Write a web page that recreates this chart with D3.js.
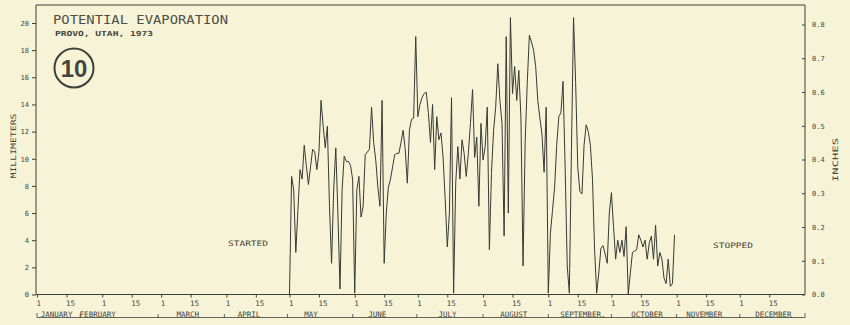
<!DOCTYPE html>
<html>
<head>
<meta charset="utf-8">
<script src="https://cdn.jsdelivr.net/npm/d3@7"></script>
<style>
  body { margin: 0; background: #f6f3d7; }
  svg { display: block; }
  text { font-family: "DejaVu Sans Mono", monospace; fill: #45443d; }
</style>
</head>
<body>
<div id="svg-container"></div>
<script>
// Daily potential evaporation, millimeters, Provo Utah 1973
const year = 1973;
const monthNames = ['JANUARY', 'FEBRUARY', 'MARCH', 'APRIL', 'MAY', 'JUNE',
  'JULY', 'AUGUST', 'SEPTEMBER,', 'OCTOBER', 'NOVEMBER', 'DECEMBER'];
const mayMm = [0, 8.7, 7.7, 3.1, 6.2, 9.2, 8.5, 11.0, 9.5, 8.1, 9.4, 10.7, 10.5, 9.2, 10.5, 14.3,
  12.4, 10.8, 12.4, 6.5, 2.3, 7.7, 10.8, 6.0, 0.4, 7.7, 10.2, 9.8, 9.8, 9.5, 8.5];
const juneMm = [0.1, 7.7, 8.7, 5.7, 6.5, 10.3, 10.5, 10.7, 13.8, 11.2, 9.9, 7.9, 6.5, 14.3, 2.3,
  6.0, 7.9, 8.5, 9.4, 10.3, 10.4, 10.4, 11.2, 12.1, 10.7, 8.2, 12.1, 12.9, 13.0, 19.0];
const julyMm = [13.1, 14.0, 14.5, 14.8, 14.9, 13.4, 11.2, 14.0, 9.2, 13.1, 11.4, 11.9, 10.1, 7.0, 3.5,
  6.0, 14.5, 0.1, 8.2, 10.9, 8.5, 11.4, 10.4, 8.7, 10.4, 12.6, 15.1, 10.1, 11.6, 6.5, 12.6];
const augustMm = [9.9, 10.9, 13.8, 3.3, 9.0, 12.1, 13.8, 17.0, 14.3, 12.6, 4.3, 19.0, 6.0, 20.4, 14.8,
  16.8, 14.3, 16.5, 13.0, 2.1, 11.2, 15.6, 19.1, 18.6, 18.0, 16.8, 14.3, 13.0, 11.8, 9.0, 13.8];
const septemberMm = [0.1, 4.5, 6.2, 7.9, 11.0, 13.1, 13.4, 15.7, 9.4, 2.1, 0.1, 10.7, 20.4, 15.6, 9.4,
  7.6, 7.4, 11.0, 12.5, 12.0, 11.0, 8.5, 3.3, 0.1, 1.6, 3.4, 3.6, 3.0, 2.3, 6.0];
const octoberMm = [7.5, 5.0, 2.6, 4.0, 3.1, 4.0, 2.8, 5.0, 0.0, 1.6, 3.1, 3.2, 3.3, 4.4, 4.0,
  3.5, 4.0, 2.6, 3.8, 4.3, 2.6, 5.1, 2.1, 3.1, 2.6, 1.2, 0.8, 2.6, 0.6, 0.8, 4.4];
const mmTicks = [0, 2, 4, 6, 8, 10, 12, 14, 16, 18, 20];
const inchTicks = [0, 0.1, 0.2, 0.3, 0.4, 0.5, 0.6, 0.7, 0.8];
const dayTicks = [1, 15];

// months that have data, month index -> values
let monthSeries = [[4, mayMm], [5, juneMm], [6, julyMm], [7, augustMm], [8, septemberMm], [9, octoberMm]];
let data = [];
monthSeries.forEach(([m, vals]) => {
  vals.forEach((v, i) => data.push({ date: new Date(year, m, i + 1), mm: v }));
});

let svgWidth = 850;
let svgHeight = 325;
let plotLeft = 36, plotRight = 805, plotTop = 5, plotBase = 294.5;

let svg = d3.select('#svg-container')
  .append('svg')
  .attr('width', svgWidth)
  .attr('height', svgHeight);

// scales
let x = d3.scaleTime()
  .domain([new Date(year, 0, 1), new Date(year + 1, 0, 1)])
  .range([37, plotRight]);
let y = d3.scaleLinear().domain([0, 20]).range([plotBase, 23]);
let yIn = d3.scaleLinear().domain([0, 0.8]).range([plotBase, 24.5]);

let ink = '#3f3e38';

// frame: top and right edges, left axis and baseline
svg.append('path')
  .attr('d', `M${plotLeft},${plotBase}V${plotTop}H${plotRight}V${plotBase}H${plotLeft}`)
  .attr('fill', 'none')
  .attr('stroke', ink)
  .attr('stroke-width', 1);

// left axis
let gl = svg.append('g')
  .attr('transform', `translate(${plotLeft},0)`)
  .call(d3.axisLeft(y).tickValues(mmTicks).tickSize(4).tickPadding(3).tickFormat(d3.format('d')));
gl.select('.domain').remove();
gl.selectAll('text').style('font-size', '7px');

// right axis
let gr = svg.append('g')
  .attr('transform', `translate(${plotRight},0)`)
  .call(d3.axisRight(yIn).tickValues(inchTicks).tickSize(-3).tickPadding(7).tickFormat(d3.format('.1f')));
gr.select('.domain').remove();
gr.selectAll('text').style('font-size', '7px');

// bottom axis: 1 and 15 of each month
let tickDates = [];
d3.range(12).forEach(m => dayTicks.forEach(d => tickDates.push(new Date(year, m, d))));
let gb = svg.append('g')
  .attr('transform', `translate(0,${plotBase})`)
  .call(d3.axisBottom(x).tickValues(tickDates).tickSize(3).tickPadding(3).tickFormat(d3.timeFormat('%-d')));
gb.select('.domain').remove();
gb.selectAll('text').style('font-size', '7.5px').attr('text-anchor', 'start').attr('dx', -1);
svg.selectAll('.tick line').attr('stroke', ink);

// month names with underline bracket; hand-lettered names sit a bit off centre
let monthStarts = d3.range(13).map(m => new Date(year, m, 1));
let labelShift = [-13, -34, -6, -9, -11, -9, -3, -2, 3, 3, -4, 1];
let separatorShift = [-22, -3, -2, -2, -2, -1, 0, 0, 0, 0, 0];
svg.append('g').selectAll('text')
  .data(monthNames)
  .join('text')
  .attr('x', (d, i) => (x(monthStarts[i]) + x(monthStarts[i + 1])) / 2 + labelShift[i])
  .attr('y', 316.5)
  .attr('text-anchor', 'middle')
  .style('font-size', '7.5px')
  .text(d => d);
svg.append('path')
  .attr('d', `M${x(monthStarts[0])},313V317.5H${x(monthStarts[12])}V313`)
  .attr('fill', 'none')
  .attr('stroke', ink)
  .attr('stroke-width', 0.8);
svg.append('g').selectAll('line')
  .data(monthStarts.slice(1, 12))
  .join('line')
  .attr('x1', (d, i) => x(d) + separatorShift[i])
  .attr('x2', (d, i) => x(d) + separatorShift[i])
  .attr('y1', 314).attr('y2', 317.5)
  .attr('stroke', ink)
  .attr('stroke-width', 0.8);

// the evaporation trace
let evapLine = d3.line()
  .x(d => x(d.date))
  .y(d => y(d.mm));
svg.append('path')
  .datum(data)
  .attr('d', evapLine)
  .attr('fill', 'none')
  .attr('stroke', '#3a3934')
  .attr('stroke-width', 1)
  .attr('stroke-linejoin', 'round');

// titles
svg.append('text').attr('x', 53).attr('y', 24)
  .attr('textLength', 175).attr('lengthAdjust', 'spacingAndGlyphs')
  .style('font-size', '12.5px').style('fill', '#4f4e47')
  .text('POTENTIAL EVAPORATION');
svg.append('text').attr('x', 55).attr('y', 36)
  .attr('textLength', 98).attr('lengthAdjust', 'spacingAndGlyphs')
  .style('font-size', '7px').style('font-weight', 'bold')
  .text('PROVO, UTAH, 1973');

// figure number
svg.append('circle').attr('cx', 74).attr('cy', 68).attr('r', 19.5)
  .attr('fill', 'none').attr('stroke', ink).attr('stroke-width', 2);
svg.append('text').attr('x', 74).attr('y', 77)
  .attr('text-anchor', 'middle')
  .style('font-family', '"Liberation Sans Narrow", "Liberation Sans", sans-serif')
  .style('font-weight', 'bold').style('font-size', '24px')
  .text('10');

// axis titles
svg.append('text').attr('transform', 'translate(16,146) rotate(-90)')
  .attr('text-anchor', 'middle')
  .attr('textLength', 65).attr('lengthAdjust', 'spacingAndGlyphs')
  .style('font-size', '7.5px')
  .text('MILLIMETERS');
svg.append('text').attr('transform', 'translate(838,160) rotate(-90)')
  .attr('text-anchor', 'middle')
  .attr('textLength', 44).attr('lengthAdjust', 'spacingAndGlyphs')
  .style('font-size', '7.5px')
  .text('INCHES');

// start / stop notes
svg.append('text').attr('x', 228).attr('y', 246)
  .attr('textLength', 40).attr('lengthAdjust', 'spacingAndGlyphs')
  .style('font-size', '7.5px')
  .text('STARTED');
svg.append('text').attr('x', 713).attr('y', 248)
  .attr('textLength', 40).attr('lengthAdjust', 'spacingAndGlyphs')
  .style('font-size', '7.5px')
  .text('STOPPED');
</script>
</body>
</html>
